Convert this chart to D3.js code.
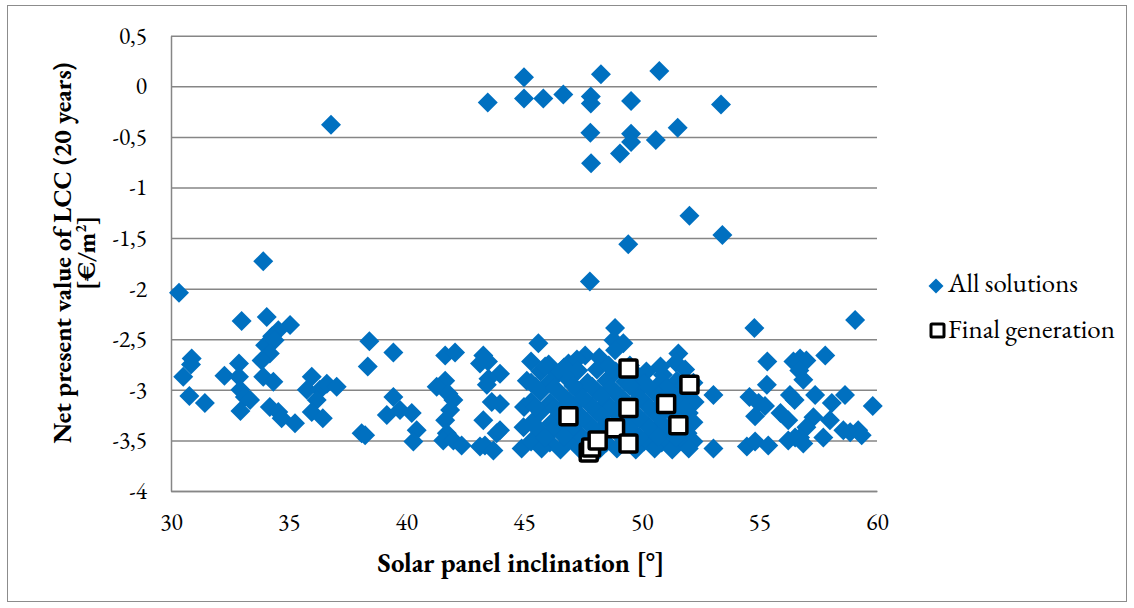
<!DOCTYPE html>
<html>
<head>
<meta charset="utf-8">
<script src="https://cdn.jsdelivr.net/npm/d3@7"></script>
<style>
  html, body { margin: 0; padding: 0; background: #fff; }
  svg { display: block; }
</style>
</head>
<body>
<svg id="chart" width="1134" height="608"></svg>
<script>
// Tick values for both axes
const xTicks = [30, 35, 40, 45, 50, 55, 60];
const yTicks = [0.5, 0, -0.5, -1, -1.5, -2, -2.5, -3, -3.5, -4];

// Every evaluated design: [inclination (deg), net present value of LCC (EUR/m2)]
const allSolutions = [
  [30.34,-2.04],[30.52,-2.87],[30.78,-3.06],[30.88,-2.69],[30.85,-2.75],[31.44,-3.13],
  [32.27,-2.86],[32.89,-2.74],[32.89,-2.87],[33.0,-2.32],[32.95,-3.0],[33.14,-3.07],[33.36,-3.10],[32.95,-3.21],
  [33.92,-1.73],[34.07,-2.28],[35.06,-2.36],[34.56,-2.41],[34.3,-2.47],[34.0,-2.56],[34.4,-2.51],[34.2,-2.64],
  [33.85,-2.71],[33.92,-2.87],[34.35,-2.92],[34.2,-3.17],[34.56,-3.22],[34.7,-3.28],[35.27,-3.33],
  [36.8,-0.38],
  [35.98,-2.87],[35.77,-3.0],[36.33,-3.0],[36.62,-2.94],[37.04,-2.97],[36.19,-3.1],[35.98,-3.22],[36.45,-3.28],
  [38.43,-2.52],[38.36,-2.77],[39.45,-2.63],[38.1,-3.43],[38.25,-3.45],[39.45,-3.07],[39.17,-3.25],[39.73,-3.2],
  [40.23,-3.23],[40.44,-3.40],[40.3,-3.51],
  [41.65,-2.66],[42.07,-2.63],[41.65,-2.91],[41.29,-2.97],[41.79,-3.04],[42.0,-3.1],[41.86,-3.2],[41.65,-3.30],
  [41.72,-3.43],[41.57,-3.50],[42.0,-3.5],[42.35,-3.55],
  [43.27,-2.66],[43.47,-2.72],[43.13,-2.74],[43.98,-2.84],[43.49,-2.89],[43.42,-2.95],[43.63,-3.12],[43.98,-3.14],
  [43.27,-3.30],[43.84,-3.43],[43.98,-3.4],[43.34,-3.55],[43.13,-3.56],[43.7,-3.6],
  [44.9,-3.58],[45.12,-2.91],[45.0,-3.17],[44.98,-3.37],
  [43.46,-0.16],[45.0,0.09],[45.0,-0.12],[45.82,-0.12],[46.67,-0.08],[47.84,-0.1],[47.84,-0.17],[48.27,0.12],
  [50.75,0.15],[49.55,-0.145],[53.37,-0.18],[47.82,-0.46],[49.55,-0.47],[49.55,-0.55],[49.08,-0.665],[50.6,-0.53],
  [51.53,-0.41],[47.85,-0.76],[52.03,-1.28],[53.43,-1.47],[49.43,-1.56],[47.8,-1.93],
  [45.61,-2.54],[48.87,-2.39],[48.8,-2.51],[49.22,-2.54],[48.87,-2.61],[47.6,-2.66],[46.89,-2.74],[51.56,-2.64],
  [45.3,-2.72],[46.05,-2.75],[47.25,-2.7],[48.2,-2.68],[49.5,-2.76],[51.45,-2.73],[50.2,-2.82],
  [45.7,-2.82],[46.5,-2.83],[47.3,-2.81],[48.1,-2.8],[48.9,-2.82],[49.75,-2.84],[50.9,-2.85],[51.85,-2.8],
  [45.3,-2.93],[46.1,-2.92],[46.9,-2.9],[47.7,-2.93],[48.5,-2.91],[49.3,-2.92],[50.1,-2.94],[50.85,-2.92],[51.5,-2.91],[52.2,-2.93],
  [45.7,-3.02],[46.5,-3.03],[47.3,-3.01],[48.1,-3.02],[48.9,-3.03],[49.7,-3.0],[50.5,-3.02],[51.25,-3.03],[51.95,-3.01],
  [45.3,-3.12],[46.1,-3.13],[46.9,-3.11],[47.7,-3.12],[48.5,-3.13],[49.3,-3.11],[50.1,-3.12],[50.9,-3.13],[51.6,-3.11],[52.25,-3.12],
  [45.7,-3.22],[46.5,-3.21],[47.3,-3.23],[48.1,-3.22],[48.9,-3.21],[49.7,-3.23],[50.5,-3.22],[51.3,-3.21],[52.0,-3.23],
  [45.35,-3.32],[46.15,-3.33],[46.9,-3.31],[47.7,-3.32],[48.5,-3.33],[49.3,-3.31],[50.1,-3.32],[50.85,-3.33],[51.6,-3.31],[52.2,-3.32],
  [45.7,-3.42],[46.5,-3.41],[47.3,-3.43],[48.1,-3.42],[48.9,-3.41],[49.7,-3.43],[50.5,-3.42],[51.25,-3.41],[51.95,-3.43],
  [45.3,-3.51],[46.1,-3.52],[46.9,-3.5],[47.7,-3.51],[48.5,-3.52],[49.3,-3.5],[50.1,-3.51],[50.85,-3.52],[51.55,-3.5],[52.2,-3.51],
  [45.75,-3.58],[46.55,-3.59],[47.35,-3.58],[48.15,-3.6],[48.95,-3.58],[49.75,-3.59],[50.55,-3.58],[51.3,-3.59],[52.0,-3.58],
  [45.5,-2.97],[46.3,-2.98],[47.1,-2.96],[47.9,-2.97],[48.7,-2.98],[49.5,-2.96],[50.3,-2.97],[51.05,-2.98],[51.8,-2.96],
  [45.5,-3.17],[46.3,-3.18],[47.1,-3.16],[47.9,-3.17],[48.7,-3.18],[50.3,-3.17],[51.05,-3.16],[51.8,-3.18],
  [45.5,-3.37],[46.3,-3.38],[47.1,-3.36],[47.9,-3.37],[48.7,-3.38],[49.5,-3.36],[50.3,-3.37],[51.05,-3.38],[51.8,-3.36],
  [45.9,-2.77],[46.7,-2.78],[48.6,-2.76],[50.8,-2.77],[45.9,-3.47],[46.7,-3.46],[47.5,-3.47],[48.3,-3.46],
  [49.9,-3.47],[50.7,-3.46],[51.45,-3.47],
  [46.7,-3.07],[47.5,-3.08],[48.3,-3.06],[49.1,-3.07],[49.9,-3.08],[50.7,-3.06],[51.45,-3.07],
  [46.7,-3.27],[47.5,-3.28],[48.3,-3.26],[49.1,-3.27],[49.9,-3.28],[50.7,-3.26],[51.45,-3.27],
  [53.05,-3.05],[53.05,-3.58],
  [59.07,-2.31],[54.79,-2.39],[57.8,-2.66],[55.34,-2.72],[56.73,-2.69],[57.0,-2.71],[56.45,-2.72],[56.7,-2.81],
  [56.87,-2.9],[55.32,-2.95],[54.58,-3.07],[54.97,-3.13],[55.24,-3.16],[54.82,-3.26],[56.3,-3.05],[56.5,-3.1],
  [57.37,-3.05],[55.9,-3.23],[56.23,-3.30],[57.3,-3.27],[57.0,-3.37],[56.73,-3.47],[58.08,-3.13],[58.64,-3.05],
  [59.82,-3.16],[58.0,-3.3],[57.72,-3.47],[58.57,-3.40],[58.86,-3.42],[59.2,-3.40],[59.35,-3.45],[54.47,-3.56],
  [54.82,-3.51],[55.38,-3.55],[56.23,-3.5],[56.52,-3.47],[56.87,-3.53]
];

// Designs surviving in the last generation of the optimisation
const finalGeneration = [
  [49.44,-2.79],[52.03,-2.95],[46.89,-3.26],[49.44,-3.18],[51.04,-3.14],[51.56,-3.35],
  [48.87,-3.38],[47.75,-3.62],[47.85,-3.57],[48.13,-3.50],[49.44,-3.53]
];

const seriesNames = ["All solutions", "Final generation"];

const FONT = "EB Garamond, Liberation Serif, serif";
const TICK_SIZE = 23.5;
const svg = d3.select("#chart").attr("font-family", FONT).style("font-family", FONT);
const W = 1134, H = 608;
const plot = { left: 171, right: 877, top: 35.7, bottom: 491 };
const blue = "#0070C0";
const grid = "#868686";

// Scale a text's font size so that its run spans the given width
function fitWidth(sel, target, measure) {
  const node = (measure || sel).node();
  const size = parseFloat(sel.style("font-size"));
  const w = node.getComputedTextLength();
  if (w > 0) sel.style("font-size", (size * target / w).toFixed(2) + "px");
}

// Outer chart frame
svg.append("rect")
  .attr("x", 7.5).attr("y", 5.5).attr("width", W - 15).attr("height", H - 12)
  .attr("fill", "#fff").attr("stroke", "#8c8c8c").attr("stroke-width", 1);

const x = d3.scaleLinear().domain([30, 60]).range([plot.left, plot.right]);
const y = d3.scaleLinear().domain([-4, 0.5]).range([plot.bottom, plot.top]);

const fmt = d => String(d).replace(".", ",");

// Horizontal gridlines
const gGrid = svg.append("g").attr("transform", `translate(${plot.left},0)`)
  .call(d3.axisLeft(y).tickValues(yTicks).tickSize(-(plot.right - plot.left)).tickFormat(""));
gGrid.select(".domain").remove();
gGrid.selectAll(".tick line").attr("stroke", grid).attr("stroke-width", 1.5);

function styleAxis(g) {
  g.attr("font-family", FONT).attr("font-size", TICK_SIZE);
  g.select(".domain").attr("stroke", grid).attr("stroke-width", 1.5);
  g.selectAll(".tick text")
    .attr("fill", "#000")
    .style("font-family", FONT)
    .style("font-size", TICK_SIZE + "px")
    .style("font-variant-numeric", "lining-nums");
}

// Y axis labels and vertical axis line
const gy = svg.append("g").attr("transform", `translate(${plot.left},0)`)
  .call(d3.axisLeft(y).tickValues(yTicks).tickSize(0).tickPadding(24).tickFormat(fmt));
styleAxis(gy);

// X axis
const gx = svg.append("g").attr("transform", `translate(0,${plot.bottom})`)
  .call(d3.axisBottom(x).tickValues(xTicks).tickSize(0).tickPadding(22).tickFormat(d => d));
styleAxis(gx);

// Axis titles
const xTitle = svg.append("text")
  .attr("x", 521).attr("y", 572)
  .attr("text-anchor", "middle")
  .style("font-size", "22px").style("font-weight", "bold")
  .text("Solar panel inclination [°]");
fitWidth(xTitle, 287);

const yTitle = svg.append("text")
  .attr("transform", `translate(0,253) rotate(-90)`)
  .attr("text-anchor", "middle")
  .style("font-size", "22px").style("font-weight", "bold")
  .style("font-variant-numeric", "lining-nums");
const line1 = yTitle.append("tspan").attr("x", 0).attr("y", 71).text("Net present value of LCC (20 years)");
const t2 = yTitle.append("tspan").attr("x", 0).attr("y", 95).text("[€/m");
t2.append("tspan").attr("dy", -9).style("font-size", "15px").text("2");
t2.append("tspan").attr("dy", 9).text("]");
fitWidth(yTitle, 381, line1);

// Markers
const diamond = r => `M0,${-r}L${r},0L0,${r}L${-r},0Z`;

svg.append("g").selectAll("path")
  .data(allSolutions)
  .join("path")
  .attr("d", diamond(10))
  .attr("transform", d => `translate(${x(d[0])},${y(d[1])})`)
  .attr("fill", blue);

const sq = 17;
svg.append("g").selectAll("rect")
  .data(finalGeneration)
  .join("rect")
  .attr("x", d => x(d[0]) - sq / 2)
  .attr("y", d => y(d[1]) - sq / 2)
  .attr("width", sq).attr("height", sq)
  .attr("rx", 1.5)
  .attr("fill", "#fff").attr("stroke", "#000").attr("stroke-width", 3.5);

// Legend
const legend = svg.append("g");
legend.append("path").attr("d", diamond(7.5))
  .attr("transform", "translate(936,286)").attr("fill", blue);
const l1 = legend.append("text").attr("x", 948).attr("y", 292)
  .style("font-size", "22px").text(seriesNames[0]);
fitWidth(l1, 130);
legend.append("rect").attr("x", 931).attr("y", 324).attr("width", 13).attr("height", 13)
  .attr("rx", 1).attr("fill", "#fff").attr("stroke", "#000").attr("stroke-width", 3);
const l2 = legend.append("text").attr("x", 948).attr("y", 338)
  .style("font-size", "22px").text(seriesNames[1]);
fitWidth(l2, 167);
</script>
</body>
</html>
